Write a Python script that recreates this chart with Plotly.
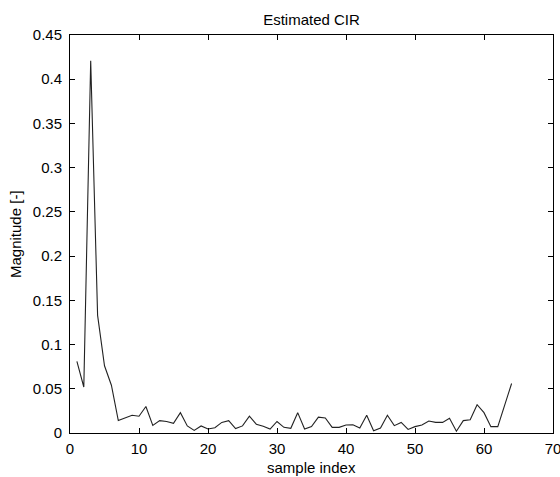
import plotly.graph_objects as go

sample_index = list(range(1, 65))
magnitude = [
    0.081, 0.052, 0.421, 0.133, 0.076, 0.054, 0.014, 0.017, 0.020, 0.019,
    0.030, 0.0086, 0.014, 0.013, 0.011, 0.023, 0.008, 0.003, 0.008, 0.0045,
    0.006, 0.012, 0.014, 0.005, 0.008, 0.019, 0.010, 0.0076, 0.0045, 0.013,
    0.0064, 0.0053, 0.023, 0.0045, 0.0072, 0.018, 0.017, 0.0064, 0.0064, 0.009,
    0.0094, 0.0057, 0.020, 0.0026, 0.0057, 0.020, 0.0083, 0.012, 0.0040, 0.0072,
    0.009, 0.0136, 0.012, 0.012, 0.0166, 0.002, 0.014, 0.015, 0.032, 0.023,
    0.0072, 0.0072, 0.032, 0.056,
]

x_ticks = [0, 10, 20, 30, 40, 50, 60, 70]
y_ticks = [0, 0.05, 0.1, 0.15, 0.2, 0.25, 0.3, 0.35, 0.4, 0.45]
y_tick_labels = ["0", "0.05", "0.1", "0.15", "0.2", "0.25", "0.3", "0.35", "0.4", "0.45"]

font_family = "Liberation Sans, Arial, sans-serif"
fs = 15

fig = go.Figure()
fig.add_trace(go.Scatter(
    x=sample_index, y=magnitude, mode="lines",
    line=dict(color="#222222", width=1.1),
    showlegend=False, hoverinfo="skip",
))

axis_common = dict(
    showline=True, linecolor="black", linewidth=1, mirror="ticks",
    ticks="inside", ticklen=5, tickcolor="black", tickwidth=1,
    showgrid=False, zeroline=False, automargin=False,
    ticklabeloverflow="allow",
    tickfont=dict(family=font_family, size=fs, color="black"),
)

fig.update_layout(
    width=560, height=477,
    margin=dict(l=70, r=7, t=35, b=44),
    paper_bgcolor="white", plot_bgcolor="white",
    font=dict(family=font_family, size=fs, color="black"),
    title=dict(text="Estimated CIR", x=0.5, xref="paper", y=1 - 20 / 477,
               yref="container", yanchor="middle", xanchor="center",
               font=dict(family=font_family, size=fs, color="black")),
    xaxis=dict(range=[0, 70], tickvals=x_ticks, ticklabelstandoff=2,
               **axis_common),
    yaxis=dict(range=[0, 0.45], tickvals=y_ticks, ticktext=y_tick_labels,
               ticklabelstandoff=4, **axis_common),
    annotations=[
        dict(text="sample index", xref="paper", yref="paper", x=0.5, y=0,
             yshift=-34, xanchor="center", yanchor="middle", showarrow=False,
             font=dict(family=font_family, size=fs, color="black")),
        dict(text="Magnitude [-]", xref="paper", yref="paper", x=0, y=0.5,
             xshift=-55, xanchor="center", yanchor="middle", textangle=-90,
             showarrow=False,
             font=dict(family=font_family, size=fs, color="black")),
    ],
)

fig.write_html("out.html",
               config={"displayModeBar": False},
               post_script="document.body.style.margin='0';document.body.style.overflow='hidden';")
